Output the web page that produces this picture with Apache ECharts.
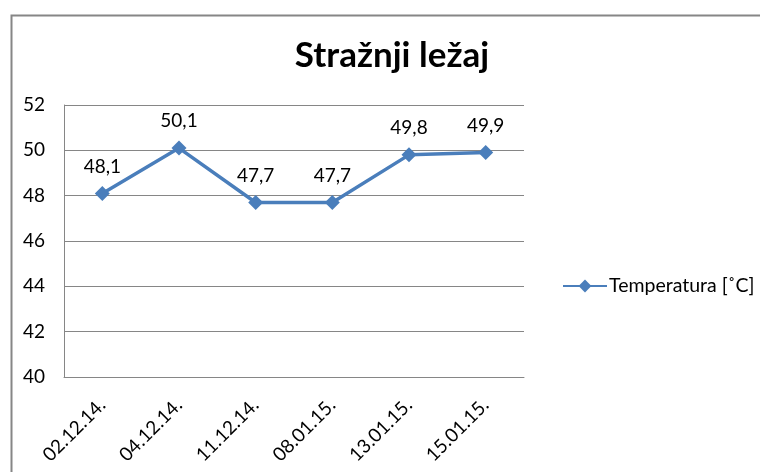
<!DOCTYPE html>
<html>
<head>
<meta charset="utf-8">
<script src="https://cdn.jsdelivr.net/npm/echarts@6/dist/echarts.min.js"></script>
<style>html,body{margin:0;padding:0;background:#fff}#c{width:760px;height:472px}</style>
</head>
<body>
<div id="c"></div>
<script>
var titleText = "Stražnji ležaj";
var seriesName = "Temperatura [˚C]";
var categories = ["02.12.14.", "04.12.14.", "11.12.14.", "08.01.15.", "13.01.15.", "15.01.15."];
var temperatures = [48.1, 50.1, 47.7, 47.7, 49.8, 49.9];
var yMin = 40, yMax = 52, yStep = 2;

var FONT = "Lato";
var chart = echarts.init(document.getElementById('c'));
chart.setOption({
  backgroundColor: '#fff',
  animation: false,
  textStyle: { fontFamily: FONT },
  graphic: [{
    type: 'rect', left: 9, top: 13, z: -1,
    shape: { width: 800, height: 520 },
    style: { fill: 'none', stroke: '#868686', lineWidth: 2 }
  }],
  title: {
    text: titleText, left: 387, top: 33, textAlign: 'center',
    textStyle: { fontFamily: FONT, fontWeight: 'bold', fontSize: 35, color: '#000' }
  },
  legend: {
    left: 557, top: 271, itemWidth: 44, itemHeight: 16, itemGap: 2,
    textStyle: { fontFamily: FONT, fontSize: 19.5, color: '#000', padding: [0,0,0,-3] },
    data: [seriesName]
  },
  grid: { left: 64, right: 236, top: 105, bottom: 95, containLabel: false },
  xAxis: {
    type: 'category', data: categories, boundaryGap: true,
    axisLine: { lineStyle: { color: '#868686', width: 1 } },
    axisTick: { show: false },
    axisLabel: { rotate: 45, margin: 25, fontFamily: FONT, fontSize: 19, color: '#000' }
  },
  yAxis: {
    type: 'value', min: yMin, max: yMax, interval: yStep,
    axisLine: { show: true, lineStyle: { color: '#868686', width: 1 } },
    axisTick: { show: false },
    axisLabel: { margin: 19, fontFamily: FONT, fontSize: 19, color: '#000' },
    splitLine: { lineStyle: { color: '#868686', width: 1 } }
  },
  series: [{
    name: seriesName, type: 'line', data: temperatures,
    symbol: 'diamond', symbolSize: 15,
    lineStyle: { color: '#4a7ebb', width: 3.5 },
    itemStyle: { color: '#4a7ebb' },
    label: {
      show: true, position: 'top', distance: 10,
      fontFamily: FONT, fontSize: 19, color: '#000',
      formatter: function (p) { return String(p.value).replace('.', ','); }
    }
  }]
});
</script>
</body>
</html>
